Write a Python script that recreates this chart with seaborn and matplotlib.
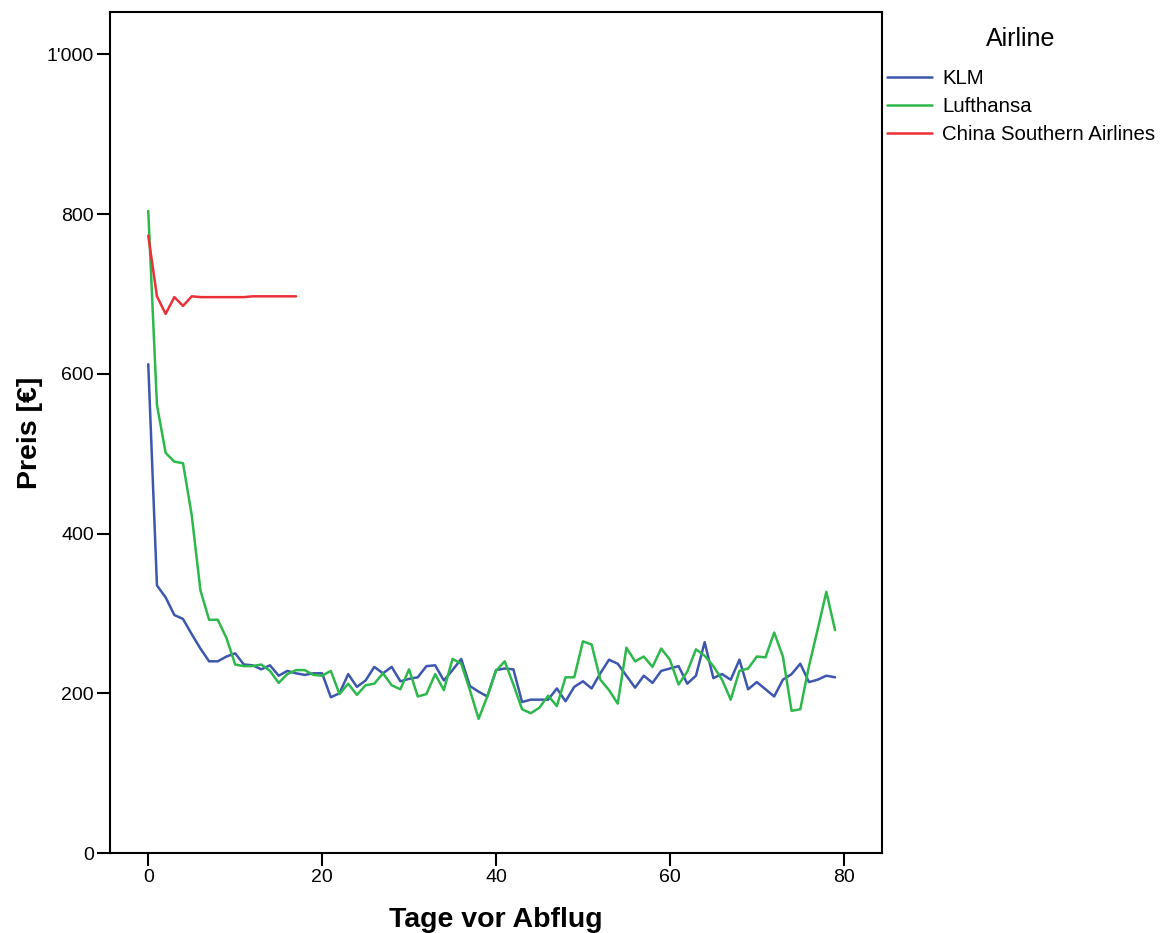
import matplotlib
matplotlib.use("Agg")
import matplotlib.pyplot as plt
import seaborn as sns
import pandas as pd
from matplotlib.ticker import FuncFormatter, FixedLocator

klm = [612, 335, 320, 298, 293, 274, 256, 240, 240, 246,
       250, 236, 235, 230, 235, 222, 228, 225, 223, 225,
       225, 195, 200, 224, 208, 216, 233, 225, 233, 215,
       218, 220, 234, 235, 216, 229, 243, 209, 202, 196,
       229, 231, 230, 189, 192, 192, 192, 206, 190, 208,
       215, 206, 225, 242, 237, 222, 207, 222, 213, 228,
       231, 234, 212, 222, 264, 219, 224, 217, 242, 205,
       214, 205, 196, 217, 224, 237, 214, 217, 222, 220]
lufthansa = [804, 561, 501, 490, 488, 423, 329, 292, 292, 269,
             236, 234, 234, 236, 228, 213, 224, 229, 229, 223,
             222, 228, 199, 212, 198, 210, 212, 225, 210, 205,
             230, 196, 199, 224, 204, 243, 237, 204, 168, 196,
             228, 240, 211, 180, 175, 182, 197, 184, 220, 220,
             265, 261, 217, 204, 187, 257, 240, 246, 233, 256,
             242, 211, 227, 255, 247, 234, 217, 192, 228, 231,
             246, 245, 276, 246, 178, 180, 234, 280, 327, 279]
china_southern = [773, 697, 675, 696, 685, 697, 696, 696, 696, 696,
                  696, 696, 697, 697, 697, 697, 697, 697]

airlines = ["KLM", "Lufthansa", "China Southern Airlines"]
colors = ["#3D56AE", "#2DB84B", "#EC3038"]
x_ticks = [0, 20, 40, 60, 80]
y_ticks = [0, 200, 400, 600, 800, 1000]

rows = []
for name, vals in zip(airlines, [klm, lufthansa, china_southern]):
    for d, v in enumerate(vals):
        rows.append({"Tage": d, "Preis": v, "Airline": name})
df = pd.DataFrame(rows)

sns.set_style("white")
plt.rcParams["font.family"] = ["Liberation Sans", "DejaVu Sans"]
plt.rcParams["text.color"] = "black"
plt.rcParams["axes.labelcolor"] = "black"
plt.rcParams["xtick.color"] = "black"
plt.rcParams["ytick.color"] = "black"

fig = plt.figure(figsize=(11.65, 9.33), dpi=100)
ax = fig.add_axes([110 / 1165, 80 / 933, 772 / 1165, 841 / 933])

sns.lineplot(data=df, x="Tage", y="Preis", hue="Airline", hue_order=airlines,
             palette=dict(zip(airlines, colors)), linewidth=1.8, ax=ax)

ax.set_xlim(-4.4, 84.4)
ax.set_ylim(0, 1053)
ax.xaxis.set_major_locator(FixedLocator(x_ticks))
ax.yaxis.set_major_locator(FixedLocator(y_ticks))
ax.yaxis.set_major_formatter(FuncFormatter(lambda v, p: f"{int(v):,}".replace(",", "'")))
ax.tick_params(axis="both", direction="out", length=9.5, width=1.5, labelsize=14,
               bottom=True, left=True, colors="black", pad=2)
for s in ax.spines.values():
    s.set_visible(True)
    s.set_color("black")
    s.set_linewidth(1.5)

ax.set_xlabel("Tage vor Abflug", fontsize=20.5, fontweight="bold", labelpad=15)
ax.set_ylabel("Preis [€]", fontsize=20.5, fontweight="bold", labelpad=3)

handles, labels = ax.get_legend_handles_labels()
leg = ax.legend(handles, labels, title="Airline", frameon=False,
                loc="upper left", bbox_to_anchor=(887 / 1165, 1 - 27 / 933),
                bbox_transform=fig.transFigure, fontsize=14.7, title_fontsize=18,
                handlelength=2.2, handletextpad=0.5, labelspacing=0.45,
                borderaxespad=0, borderpad=0)
leg._legend_box.sep = 13
for h in leg.get_lines():
    h.set_linewidth(1.8)

fig.savefig("out.png", dpi=100)
